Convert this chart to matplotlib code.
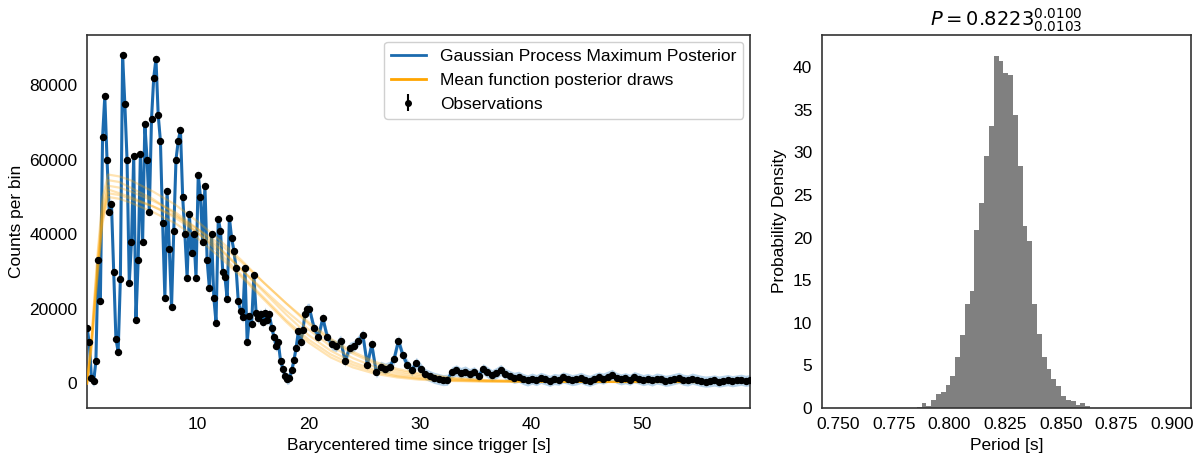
import numpy as np
import matplotlib
matplotlib.use("Agg")
import matplotlib.pyplot as plt
from matplotlib.lines import Line2D

plt.rcParams['font.family'] = ['Liberation Sans', 'DejaVu Sans']
plt.rcParams['font.size'] = 12.5

# light curve, 0.2 s bins up to 20 s
early_counts = [
    15000, 11000, 1500, 600, 6000, 33000, 22000, 66000, 77000, 60000,
    46000, 48000, 30000, 12000, 8500, 28000, 88000, 75000, 60000, 27000,
    38000, 61000, 17000, 33000, 61500, 38000, 69500, 60000, 46000, 71000,
    82000, 87000, 72000, 65000, 43000, 23000, 51600, 36000, 20500, 41000,
    60000, 65000, 68000, 50000, 40000, 28400, 45500, 35000, 40000, 28400,
    56000, 50000, 38000, 53000, 33000, 25500, 40000, 23000, 16300, 44000,
    41000, 30000, 28500, 22700, 44400, 39000, 35600, 31000, 22000, 19500,
    17700, 31000, 11000, 18000, 16000, 29000, 19000, 17500, 18500, 16500,
    19000, 17000, 18500, 15000, 12500, 10000, 11000, 6000, 4000, 2000,
    1200, 1500, 3500, 6200, 9600, 14000, 11000, 14200, 18700, 20000,
]
# 0.4 s bins after 20 s
late_counts = [
    20000, 15000, 12500, 17500, 12500, 10500, 10000, 11500, 6000, 9500,
    10000, 11500, 13000, 5000, 10500, 3000, 4500, 4000, 4500, 6500,
    11500, 7500, 5000, 3500, 5500, 4000, 2500, 2000, 1500, 1200,
    900, 1000, 3000, 3500, 2800, 3200, 2500, 3000, 2000, 3800,
    3000, 2200, 2800, 3600, 2500, 2000, 1500, 1800, 1200, 800,
    1300, 900, 1500, 1100, 700, 1200, 1000, 1600, 1300, 900,
    1100, 1500, 1000, 700, 1200, 1600, 1300, 1800, 2300, 1500,
    1100, 1400, 1000, 1700, 1300, 900, 1200, 800, 1300, 1100,
    700, 900, 1200, 1500, 1000, 800, 1300, 1000, 700, 500,
    600, 800, 500, 700, 900, 600, 800, 1000, 700, 900,
]
gp_sigma = 1500

# mean function posterior draws (values at knot times)
draw_times = [0.1, 0.5, 1.0, 1.5, 2.0, 3, 4, 6, 8, 10, 12, 14, 16, 18, 20,
              22, 24, 26, 28, 30, 33, 36, 40, 45, 50, 59.7]
mean_draws = [
    [0, 11000, 30000, 46000, 53000, 52500, 51500, 49000, 46000, 41500, 36500, 30500, 24500,
     18500, 13000, 8800, 5700, 3600, 2200, 1500, 900, 650, 500, 430, 410, 400],
    [0, 12000, 33000, 50000, 56000, 55500, 54500, 51500, 48000, 43500, 38500, 33000, 27000,
     21500, 16000, 11500, 8000, 5300, 3400, 2300, 1300, 800, 550, 450, 420, 400],
    [0, 9000, 27000, 43000, 50000, 49500, 48500, 46000, 43000, 39000, 34000, 28500, 22500,
     16500, 11000, 7000, 4300, 2600, 1600, 1000, 650, 500, 430, 410, 400, 400],
    [0, 10500, 29000, 45000, 52000, 51000, 50000, 47500, 44500, 40500, 36000, 30500, 25000,
     19500, 14500, 10000, 6800, 4400, 2800, 1900, 1100, 700, 500, 430, 410, 400],
    [0, 11500, 31500, 48000, 54500, 54000, 52500, 49500, 45500, 40500, 35000, 29000, 23000,
     17000, 11800, 7800, 5000, 3100, 1900, 1250, 750, 550, 450, 410, 400, 400],
    [0, 10000, 28000, 44000, 51000, 50500, 49500, 47500, 45000, 41500, 37500, 32500, 27000,
     21500, 16500, 12000, 8500, 5800, 3900, 2700, 1500, 900, 600, 460, 420, 400],
]

# period posterior histogram
period_lo = 0.7508
period_bin = 0.00216
period_heights = [0] * 16 + [
    0.1, 0.5, 0.25, 0.86, 1.65, 1.9, 2.7, 3.7, 6.0, 8.5, 12.2, 13.7, 20.9, 24.0, 29.6, 33.1,
    41.3, 40.7, 39.3, 39.1, 34.4, 28.4, 21.3, 19.6, 12.2, 8.7, 6.0, 4.55, 3.4, 2.55, 1.4,
    0.86, 0.75, 0.35, 0.5, 0.15,
] + [0] * 18

t_early = 0.1 + 0.2 * np.arange(len(early_counts))
t_late = 20.1 + 0.4 * np.arange(len(late_counts))
t = np.concatenate([t_early, t_late])
counts = np.array(early_counts + late_counts, dtype=float)

fig = plt.figure(figsize=(12, 4.62), dpi=100)
ax = fig.add_axes([0.0725, 0.1175, 0.5525, 0.8067])
ax2 = fig.add_axes([0.685, 0.1175, 0.3075, 0.8067])

gp_blue = '#1b6aae'
ax.fill_between(t, counts - gp_sigma, counts + gp_sigma, color='#b9d4ea', lw=0, zorder=1)
ax.plot(t, counts, color=gp_blue, lw=2.2, zorder=2)
for d in mean_draws:
    ax.plot(draw_times, d, color='orange', alpha=0.3, lw=1.6, zorder=3)
ax.errorbar(t, counts, yerr=np.sqrt(counts), fmt='o', color='black', ms=4.3,
            elinewidth=1.5, capsize=0, zorder=4)

ax.set_xlim(t.min(), t.max())
ax.set_ylim(-6500, 93400)
ax.set_xticks([10, 20, 30, 40, 50])
ax.set_yticks([0, 20000, 40000, 60000, 80000])
ax.set_xlabel('Barycentered time since trigger [s]')
ax.set_ylabel('Counts per bin')

handles = [
    Line2D([], [], color=gp_blue, lw=2),
    Line2D([], [], color='orange', lw=2),
    ax.errorbar([], [], yerr=[], fmt='o', color='black', ms=4, elinewidth=1.5),
]
ax.legend(handles, ['Gaussian Process Maximum Posterior', 'Mean function posterior draws',
                    'Observations'], loc='upper right', fontsize=12.5, framealpha=1,
          edgecolor='#d0d0d0', borderaxespad=0.4)

# histogram
edges = period_lo + period_bin * np.arange(len(period_heights) + 1)
ax2.stairs(period_heights, edges, fill=True, color='#808080')
ax2.set_xlim(0.7428, 0.9085)
ax2.set_ylim(0, 43.8)
ax2.set_xticks([0.75, 0.775, 0.8, 0.825, 0.85, 0.875, 0.9])
ax2.set_yticks([0, 5, 10, 15, 20, 25, 30, 35, 40])
ax2.set_xlabel('Period [s]')
ax2.set_ylabel('Probability Density')
ax2.set_title(r'$P = 0.8223^{0.0100}_{0.0103}$', fontsize=14, family='DejaVu Sans')

for a in (ax, ax2):
    a.tick_params(length=0, pad=7)
    for s in a.spines.values():
        s.set_color('#333333')
        s.set_linewidth(1.2)

fig.savefig('out.png', dpi=100)
